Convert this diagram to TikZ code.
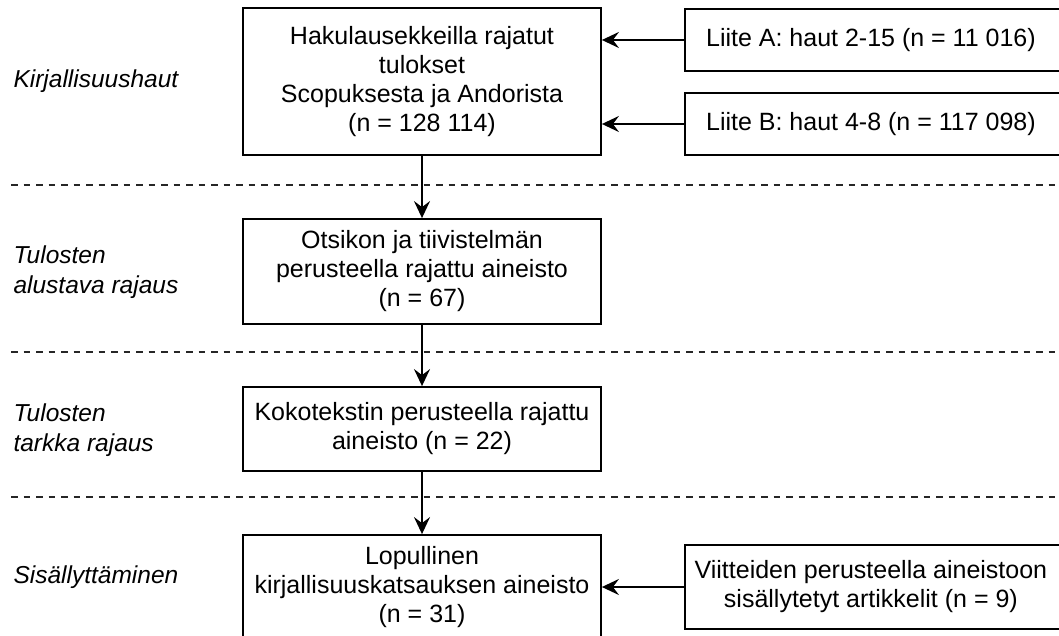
\documentclass[tikz,border=0pt]{standalone}
\usepackage{fontspec}
\setmainfont{Liberation Sans}
\usetikzlibrary{arrows.meta}
\begin{document}
\begin{tikzpicture}[x=1pt,y=-1pt,
  box/.style={draw=black,line width=1.8pt,fill=white,align=center,inner sep=0pt,
    font=\fontsize{25}{29}\selectfont},
  lbl/.style={anchor=west,align=left,font=\fontsize{24.5}{30}\selectfont\itshape},
  sep/.style={line width=1.5pt,dash pattern=on 6.5pt off 6pt,black!85},
  arr/.style={draw=black,line width=2pt,-{Stealth[length=17pt,width=16pt,inset=6pt]}}]
\useasboundingbox (0,0) rectangle (1059,636);
% separators
\draw[sep] (11,185) -- (1059,185);
\draw[sep] (11,352) -- (1059,352);
\draw[sep] (11,497) -- (1059,497);
% left labels
\node[lbl] (l1) at (10,81) {Kirjallisuushaut};
\node[lbl] (l2) at (10,272) {Tulosten\\alustava rajaus};
\node[lbl] (l3) at (10,430) {Tulosten\\tarkka rajaus};
\node[lbl] (l4) at (10,577) {Sisällyttäminen};
% boxes
\node[box,minimum width=358pt,minimum height=147pt] (a) at (422,81.5)
  {Hakulausekkeilla rajatut\\tulokset\\Scopuksesta ja Andorista\\(n = 128 114)};
\node[box,minimum width=380pt,minimum height=62pt,anchor=west] (la) at (684,40)
  {\hspace*{-8pt}Liite A: haut 2-15 (n = 11 016)};
\node[box,minimum width=380pt,minimum height=62pt,anchor=west] (lb) at (684,124)
  {\hspace*{-8pt}Liite B: haut 4-8 (n = 117 098)};
\node[box,minimum width=358pt,minimum height=105pt] (b) at (422,271.5)
  {Otsikon ja tiivistelmän\\perusteella rajattu aineisto\\(n = 67)};
\node[box,minimum width=358pt,minimum height=84pt] (c) at (422,429)
  {Kokotekstin perusteella rajattu\\aineisto (n = 22)};
\node[box,minimum width=358pt,minimum height=104pt] (d) at (422,587)
  {Lopullinen\\kirjallisuuskatsauksen aineisto\\(n = 31)};
\node[box,minimum width=380pt,minimum height=84pt,anchor=west] (e) at (684,587)
  {\hspace*{-8pt}Viitteiden perusteella aineistoon\\\hspace*{-8pt}sisällytetyt artikkelit (n = 9)};
% connectors
\draw[arr] (la.west) -- (a.east |- la.west);
\draw[arr] (lb.west) -- (a.east |- lb.west);
\draw[arr] (a.south) -- (b.north);
\draw[arr] (b.south) -- (c.north);
\draw[arr] (c.south) -- (d.north);
\draw[arr] (e.west) -- (d.east |- e.west);
\end{tikzpicture}
\end{document}
